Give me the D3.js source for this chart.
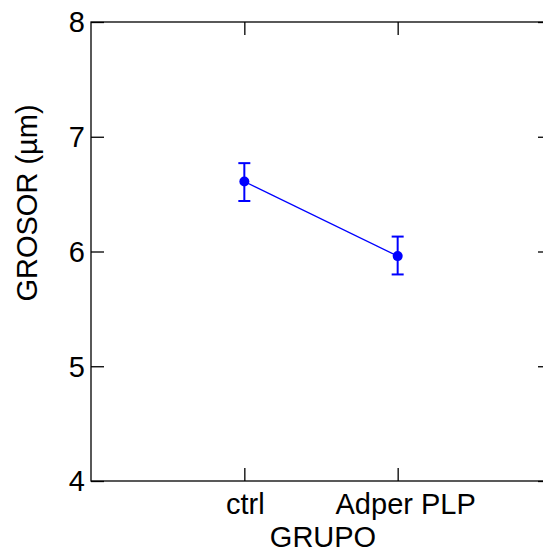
<!DOCTYPE html>
<html>
<head>
<meta charset="utf-8">
<script src="https://cdn.jsdelivr.net/npm/d3@7"></script>
<style>
  body { margin: 0; background: #fff; }
  svg text { font-family: "Liberation Sans", Arial, sans-serif; }
</style>
</head>
<body>
<div id="chart"></div>
<script>
// data
let groups = ["ctrl", "Adper PLP"];
let means = [6.61, 5.96];
let errLow = [6.44, 5.80];
let errHigh = [6.77, 6.13];
let yTicks = [4, 5, 6, 7, 8];

let width = 543, height = 554;
let margin = {top: 22, left: 91, bottom: 73};
let plotRight = 551;
let fontSize = "29px";

let svg = d3.select("#chart").append("svg")
    .attr("width", width)
    .attr("height", height);

// scales - groups sit at 1 and 2 on a 0..3 axis
let x = d3.scaleLinear().domain([0, 3]).range([margin.left, plotRight]);
let y = d3.scaleLinear().domain([4, 8]).range([height - margin.bottom, margin.top]);

let tickLen = 13;

// frame
svg.append("rect")
    .attr("x", x(0))
    .attr("y", y(8))
    .attr("width", x(3) - x(0))
    .attr("height", y(4) - y(8))
    .attr("fill", "none")
    .attr("stroke", "#000")
    .attr("stroke-width", 1.3);

// y axis (left, ticks inward)
let yAxisL = svg.append("g")
    .attr("transform", "translate(" + x(0) + ",0)")
    .call(d3.axisRight(y).tickValues(yTicks).tickSize(tickLen).tickFormat(""));
yAxisL.select(".domain").remove();
yAxisL.selectAll("line").attr("stroke-width", 1.3);

svg.selectAll(".ylab")
    .data(yTicks)
    .enter().append("text")
    .attr("class", "ylab")
    .attr("x", x(0) - 6)
    .attr("y", d => y(d))
    .attr("dy", "0.36em")
    .attr("text-anchor", "end")
    .attr("font-size", fontSize)
    .text(d => d);

// y axis (right, ticks inward)
let yAxisR = svg.append("g")
    .attr("transform", "translate(" + x(3) + ",0)")
    .call(d3.axisLeft(y).tickValues(yTicks).tickSize(tickLen).tickFormat(""));
yAxisR.select(".domain").remove();
yAxisR.selectAll("line").attr("stroke-width", 1.3);

// x axis (bottom + top, ticks inward)
let xAxisB = svg.append("g")
    .attr("transform", "translate(0," + y(4) + ")")
    .call(d3.axisTop(x).tickValues([1, 2]).tickSize(tickLen).tickFormat(""));
xAxisB.select(".domain").remove();
xAxisB.selectAll("line").attr("stroke-width", 1.3);

let xAxisT = svg.append("g")
    .attr("transform", "translate(0," + y(8) + ")")
    .call(d3.axisBottom(x).tickValues([1, 2]).tickSize(tickLen).tickFormat(""));
xAxisT.select(".domain").remove();
xAxisT.selectAll("line").attr("stroke-width", 1.3);

svg.selectAll(".xlab")
    .data(groups)
    .enter().append("text")
    .attr("class", "xlab")
    .attr("x", (d, i) => x(i + 1) + (i === 1 ? 8 : 1))
    .attr("y", 514)
    .attr("text-anchor", "middle")
    .attr("font-size", fontSize)
    .text(d => d);

// axis titles
svg.append("text")
    .attr("x", (x(0) + x(3)) / 2 + 2)
    .attr("y", 547)
    .attr("text-anchor", "middle")
    .attr("font-size", fontSize)
    .text("GRUPO");

svg.append("text")
    .attr("transform", "translate(37,203) rotate(-90)")
    .attr("text-anchor", "middle")
    .attr("font-size", fontSize)
    .text("GROSOR (µm)");

// series
let pts = groups.map((g, i) => ({g: g, pos: i + 1, m: means[i], lo: errLow[i], hi: errHigh[i]}));
let blue = "#0000ff";

svg.append("path")
    .datum(pts)
    .attr("fill", "none")
    .attr("stroke", blue)
    .attr("stroke-width", 1.3)
    .attr("d", d3.line().x(d => x(d.pos)).y(d => y(d.m)));

let err = svg.append("g").selectAll("g")
    .data(pts)
    .enter().append("g");

err.append("line")
    .attr("x1", d => x(d.pos)).attr("x2", d => x(d.pos))
    .attr("y1", d => y(d.lo)).attr("y2", d => y(d.hi))
    .attr("stroke", blue).attr("stroke-width", 2);

err.selectAll(".cap")
    .data(d => [{p: d.pos, v: d.lo}, {p: d.pos, v: d.hi}])
    .enter().append("line")
    .attr("x1", d => x(d.p) - 6).attr("x2", d => x(d.p) + 6)
    .attr("y1", d => y(d.v)).attr("y2", d => y(d.v))
    .attr("stroke", blue).attr("stroke-width", 2);

err.append("circle")
    .attr("cx", d => x(d.pos))
    .attr("cy", d => y(d.m))
    .attr("r", 5)
    .attr("fill", blue);
</script>
</body>
</html>
